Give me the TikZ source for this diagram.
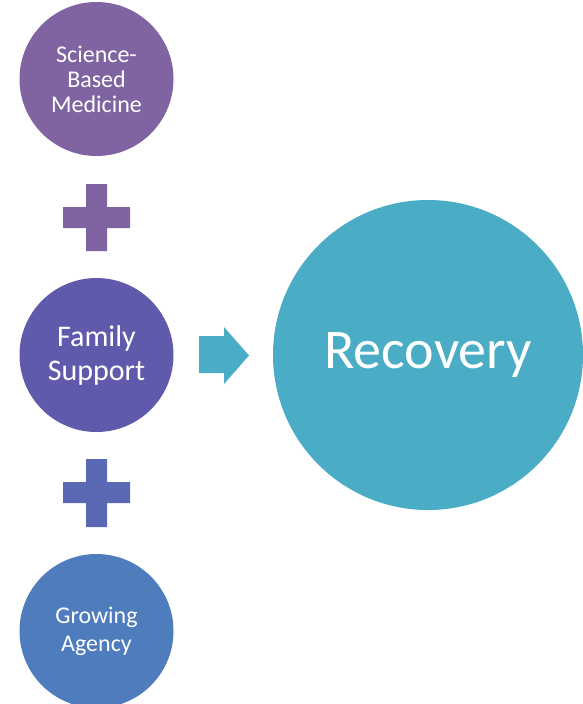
\documentclass[tikz,border=0pt]{standalone}
\usepackage{fontspec}
\setmainfont{Carlito}

\definecolor{medpurple}{HTML}{8064A2}
\definecolor{famblue}{HTML}{5F5AAB}
\definecolor{plusblue}{HTML}{5B69B5}
\definecolor{agencyblue}{HTML}{4F7CBD}
\definecolor{recteal}{HTML}{4BACC6}

\begin{document}
\begin{tikzpicture}[
x=1pt, y=-1pt,
small/.style={shape=circle, minimum size=154pt, inner sep=0pt, text=white, align=center},
big/.style={shape=circle, minimum size=310pt, inner sep=0pt, text=white, fill=recteal}
]

\useasboundingbox (0,0) rectangle (583,704);

\node[small, fill=medpurple, font=\fontsize{24}{25}\selectfont] (sci) at (96.5,79) {Science-\\Based\\Medicine};
\node[small, fill=famblue, font=\fontsize{30}{34}\selectfont] (fam) at (96.5,355) {Family\\Support};
\node[small, fill=agencyblue, font=\fontsize{24}{28}\selectfont] (grow) at (96.5,631) {Growing\\Agency};
\node[big, font=\fontsize{56}{60}\selectfont] (rec) at (428,355) {Recovery};

% plus signs
\fill[medpurple] (86,184) -- (107,184) -- (107,207) -- (130,207) -- (130,228) -- (107,228)
  -- (107,251) -- (86,251) -- (86,228) -- (63,228) -- (63,207) -- (86,207) -- cycle;
\fill[plusblue] (86,459) -- (107,459) -- (107,482) -- (130,482) -- (130,503) -- (107,503)
  -- (107,527) -- (86,527) -- (86,503) -- (63,503) -- (63,482) -- (86,482) -- cycle;

% arrow
\fill[recteal] (199,336) -- (224,336) -- (224,327) -- (249,355.5) -- (224,384)
  -- (224,373) -- (199,373) -- cycle;
\end{tikzpicture}
\end{document}
